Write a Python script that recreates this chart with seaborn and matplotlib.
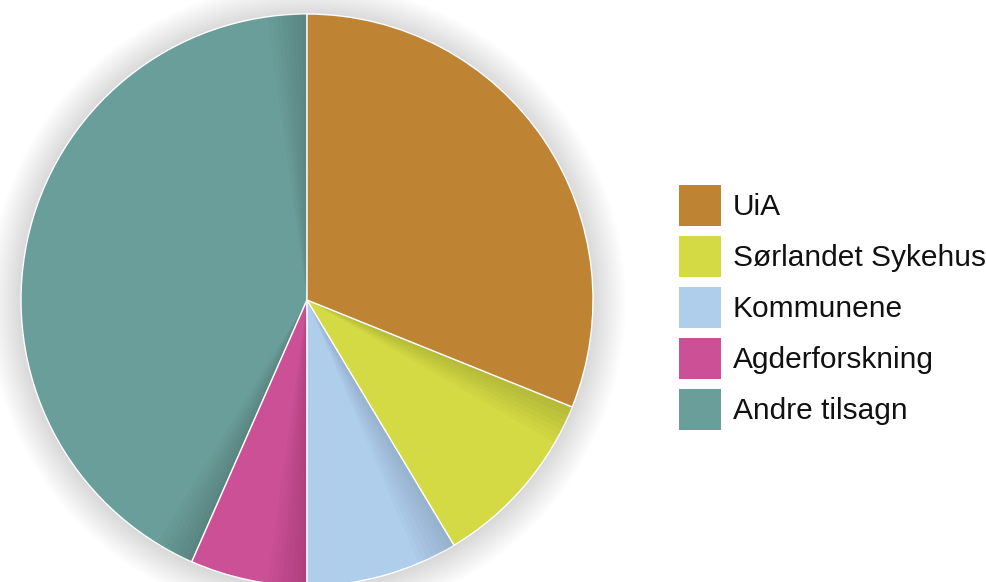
import seaborn as sns
import matplotlib.pyplot as plt
from matplotlib.patches import Patch, Circle, Wedge

# Data (share of total, %)
labels = ["UiA", "Sørlandet Sykehus", "Kommunene", "Agderforskning", "Andre tilsagn"]
shares = [31.1, 10.3, 8.6, 6.6, 43.4]
colors = ["#BF8433", "#D4DA44", "#AECEEC", "#CC5096", "#6A9E9A"]

sns.set_theme(style="white")
plt.rcParams["font.family"] = ["Liberation Sans", "DejaVu Sans"]

fig = plt.figure(figsize=(9.87, 5.82), dpi=100)

# place the pie so the centre sits at (307, 300) px with radius 286 px
W, H = 987, 582
cx, cy, r = 307, 300, 286
ax = fig.add_axes([(cx - r) / W, (H - cy - r) / H, 2 * r / W, 2 * r / H])

# soft shadow around the pie
for i in range(20):
    ax.add_patch(Circle((0.0, -0.005), 1.0 + 0.006 * i, color="black",
                        alpha=0.009, lw=0, clip_on=False, zorder=0))

wedges, _ = ax.pie(shares, colors=colors, startangle=90, counterclock=False,
                   wedgeprops=dict(edgecolor="white", linewidth=1.0))

# stack the slices (first one on top) and let each cast a faint shadow
n = len(wedges)
for k, w in enumerate(wedges):
    z = 2 + 2 * (n - k)
    w.set_zorder(z)
    for d in range(1, 9):
        ax.add_patch(Wedge(w.center, w.r, w.theta1 - d, w.theta2 + d,
                           color="black", alpha=0.016, lw=0, zorder=z - 1))

ax.set_xlim(-1, 1)
ax.set_ylim(-1, 1)
ax.set_aspect("auto")
ax.axis("off")

handles = [Patch(facecolor=c, edgecolor="none") for c in colors]
fig.legend(handles, labels, loc="upper left",
           bbox_to_anchor=(679 / W, (H - 185) / H),
           frameon=False, fontsize=21.5, labelcolor="#111111",
           borderpad=0, borderaxespad=0,
           handlelength=1.40, handleheight=1.742, handletextpad=0.4,
           labelspacing=0.33)

fig.savefig("out.png", dpi=100)
